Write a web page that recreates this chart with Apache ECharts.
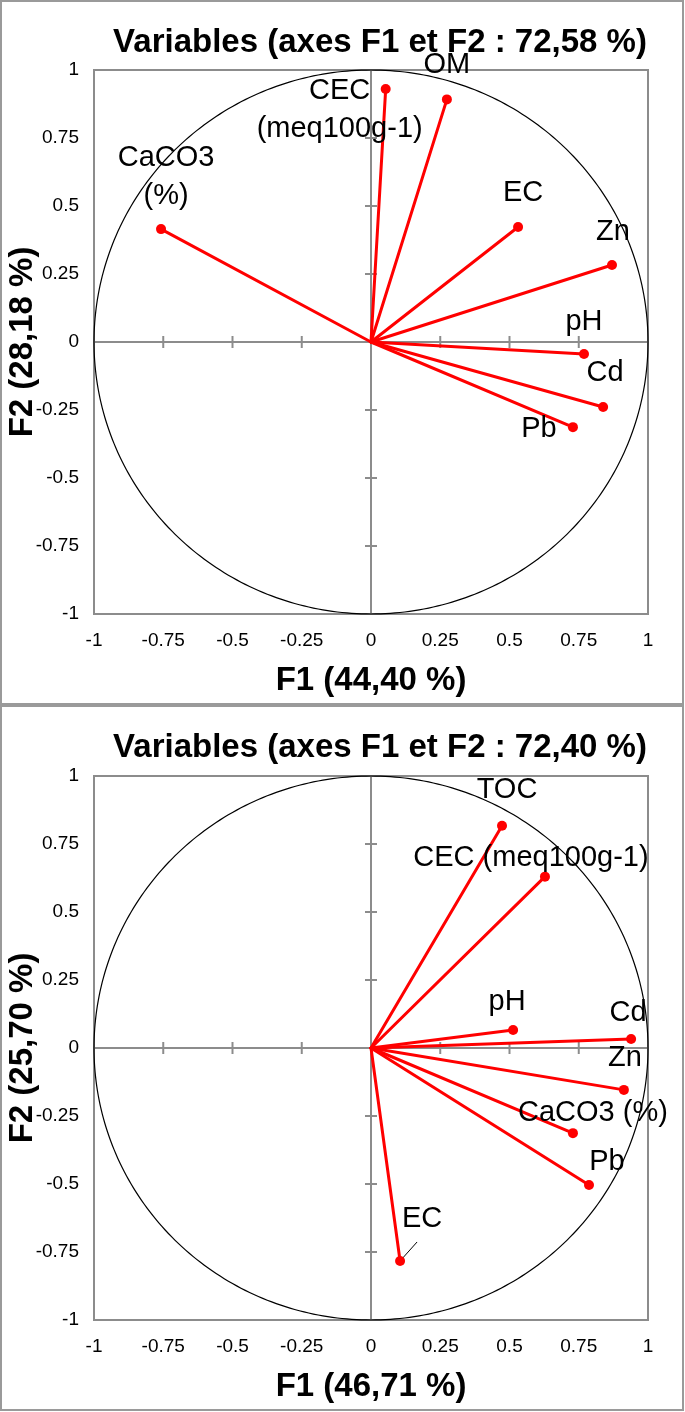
<!DOCTYPE html>
<html>
<head>
<meta charset="utf-8">
<script src="https://cdn.jsdelivr.net/npm/echarts@6/dist/echarts.min.js"></script>
<style>
html,body{margin:0;padding:0;background:#ffffff;}
#chart{width:685px;height:1412px;}
</style>
</head>
<body>
<div id="chart"></div>
<script>
// ---------- DATA ----------
const titles = ['Variables (axes F1 et F2 : 72,58 %)', 'Variables (axes F1 et F2 : 72,40 %)'];
const xNames = ['F1 (44,40 %)', 'F1 (46,71 %)'];
const yNames = ['F2 (28,18 %)', 'F2 (25,70 %)'];
const axisTicks = [-1, -0.75, -0.5, -0.25, 0, 0.25, 0.5, 0.75, 1];

const variables1 = ['CaCO3\n(%)', 'CEC\n(meq100g-1)', 'OM', 'EC', 'Zn', 'pH', 'Cd', 'Pb'];
const f1Panel1 = [-0.758, 0.053, 0.274, 0.531, 0.870, 0.769, 0.838, 0.729];
const f2Panel1 = [0.415, 0.930, 0.892, 0.423, 0.283, -0.044, -0.239, -0.313];

const variables2 = ['TOC', 'CEC (meq100g-1)', 'pH', 'Cd', 'Zn', 'CaCO3 (%)', 'Pb', 'EC'];
const f1Panel2 = [0.473, 0.628, 0.513, 0.939, 0.913, 0.729, 0.787, 0.105];
const f2Panel2 = [0.817, 0.630, 0.066, 0.033, -0.154, -0.313, -0.504, -0.783];

// ---------- LAYOUT (label placement, pixels relative to point) ----------
const labelOffsets1 = [[5, -52], [-46, 21], [0, -34], [5, -34], [1, -33], [0, -32], [2, -34], [-34, 2]];
const labelOffsets2 = [[5, -36], [-14, -19], [-6, -28], [-3, -26], [1, -32], [20, -20], [18, -23], [22, -42]];
const leaders1 = [null, null, null, null, null, null, null, null];
const leaders2 = [null, null, null, null, null, null, null, [17, -19]];

const FONT = '"Liberation Sans", Arial, Helvetica, sans-serif';
const GRAY = '#8c8c8c';
const RED = '#ff0000';

const chart = echarts.init(document.getElementById('chart'), null, {renderer: 'canvas'});

const gridTops = [70, 776];
const titleTops = [26, 731];

function axesSeries(i) {
  return {
    type: 'custom', xAxisIndex: i, yAxisIndex: i, silent: true, z: 1,
    data: [[0, 0]],
    renderItem: function (params, api) {
      const children = [];
      const o = api.coord([0, 0]);
      const xl = api.coord([axisTicks[0], 0]);
      const xr = api.coord([axisTicks[axisTicks.length - 1], 0]);
      const yb = api.coord([0, axisTicks[0]]);
      const yt = api.coord([0, axisTicks[axisTicks.length - 1]]);
      children.push({type: 'line', shape: {x1: xl[0], y1: o[1], x2: xr[0], y2: o[1]}, style: {stroke: GRAY, lineWidth: 2}});
      children.push({type: 'line', shape: {x1: o[0], y1: yb[1], x2: o[0], y2: yt[1]}, style: {stroke: GRAY, lineWidth: 2}});
      axisTicks.forEach(function (t) {
        if (t === 0 || Math.abs(t) === 1) return;
        const p = api.coord([t, 0]);
        children.push({type: 'line', shape: {x1: p[0], y1: p[1] - 6, x2: p[0], y2: p[1] + 6}, style: {stroke: GRAY, lineWidth: 2}});
        const q = api.coord([0, t]);
        children.push({type: 'line', shape: {x1: q[0] - 6, y1: q[1], x2: q[0] + 6, y2: q[1]}, style: {stroke: GRAY, lineWidth: 2}});
      });
      return {type: 'group', children: children};
    }
  };
}

function circleSeries(i) {
  return {
    type: 'custom', xAxisIndex: i, yAxisIndex: i, silent: true, z: 2,
    data: [[0, 0]],
    renderItem: function (params, api) {
      const pts = [];
      for (let a = 0; a < 360; a += 1) {
        const r = a * Math.PI / 180;
        pts.push(api.coord([Math.cos(r), Math.sin(r)]));
      }
      return {type: 'polygon', shape: {points: pts}, style: {fill: 'none', stroke: '#000', lineWidth: 1.2}};
    }
  };
}

function vectorSeries(i, xs, ys, leaders) {
  return {
    type: 'custom', xAxisIndex: i, yAxisIndex: i, silent: true, z: 3,
    data: xs.map(function (x, k) { return [x, ys[k], k]; }),
    renderItem: function (params, api) {
      const o = api.coord([0, 0]);
      const p = api.coord([api.value(0), api.value(1)]);
      const children = [{type: 'line', shape: {x1: o[0], y1: o[1], x2: p[0], y2: p[1]}, style: {stroke: RED, lineWidth: 3, lineCap: 'round'}}];
      const ld = leaders[api.value(2)];
      if (ld) {
        children.push({type: 'line', shape: {x1: p[0], y1: p[1], x2: p[0] + ld[0], y2: p[1] + ld[1]}, style: {stroke: '#000', lineWidth: 1}});
      }
      return {type: 'group', children: children};
    }
  };
}

function pointSeries(i, names, xs, ys, offsets) {
  return {
    type: 'scatter', xAxisIndex: i, yAxisIndex: i, z: 4,
    symbol: 'circle', symbolSize: 10,
    itemStyle: {color: RED, opacity: 1},
    label: {
      show: true, position: 'inside', formatter: '{b}',
      fontFamily: FONT, fontSize: 29, lineHeight: 38, color: '#000', opacity: 1,
      textBorderWidth: 0, align: 'center', verticalAlign: 'middle'
    },
    emphasis: {disabled: true},
    data: names.map(function (n, k) {
      return {name: n, value: [xs[k], ys[k]], label: {offset: offsets[k]}};
    })
  };
}

const grids = [], xAxes = [], yAxes = [], titleList = [];
for (let i = 0; i < 2; i++) {
  grids.push({left: 94, right: 37, top: gridTops[i], height: 544, containLabel: false, outerBoundsMode: 'none',
    show: true, borderColor: GRAY, borderWidth: 2, backgroundColor: 'transparent'});
  xAxes.push({
    gridIndex: i, type: 'value', min: -1, max: 1, interval: 0.25,
    axisLine: {show: false}, axisTick: {show: false}, splitLine: {show: false},
    axisLabel: {fontFamily: FONT, fontSize: 19, color: '#000', margin: 17},
    name: xNames[i], nameLocation: 'middle', nameGap: 50,
    nameTextStyle: {fontFamily: FONT, fontSize: 33, fontWeight: 'bold', color: '#000'}
  });
  yAxes.push({
    gridIndex: i, type: 'value', min: -1, max: 1, interval: 0.25,
    axisLine: {show: false}, axisTick: {show: false}, splitLine: {show: false},
    axisLabel: {fontFamily: FONT, fontSize: 19, color: '#000', margin: 15},
    name: yNames[i], nameLocation: 'middle', nameGap: 55, nameMoveOverlap: false,
    nameTextStyle: {fontFamily: FONT, fontSize: 33, fontWeight: 'bold', color: '#000'}
  });
  titleList.push({
    text: titles[i], left: 380, top: titleTops[i], textAlign: 'center', padding: 0,
    textStyle: {fontFamily: FONT, fontSize: 33, fontWeight: 'bold', color: '#000'}
  });
}

chart.setOption({
  animation: false,
  backgroundColor: '#ffffff',
  title: titleList,
  grid: grids,
  xAxis: xAxes,
  yAxis: yAxes,
  graphic: [
    {type: 'rect', z: -10, silent: true, shape: {x: 1, y: 1, width: 682, height: 703}, style: {fill: 'none', stroke: '#9a9a9a', lineWidth: 2}},
    {type: 'rect', z: -10, silent: true, shape: {x: 1, y: 706, width: 682, height: 704}, style: {fill: 'none', stroke: '#9a9a9a', lineWidth: 2}}
  ],
  series: [
    axesSeries(0), circleSeries(0), vectorSeries(0, f1Panel1, f2Panel1, leaders1), pointSeries(0, variables1, f1Panel1, f2Panel1, labelOffsets1),
    axesSeries(1), circleSeries(1), vectorSeries(1, f1Panel2, f2Panel2, leaders2), pointSeries(1, variables2, f1Panel2, f2Panel2, labelOffsets2)
  ]
});
</script>
</body>
</html>
